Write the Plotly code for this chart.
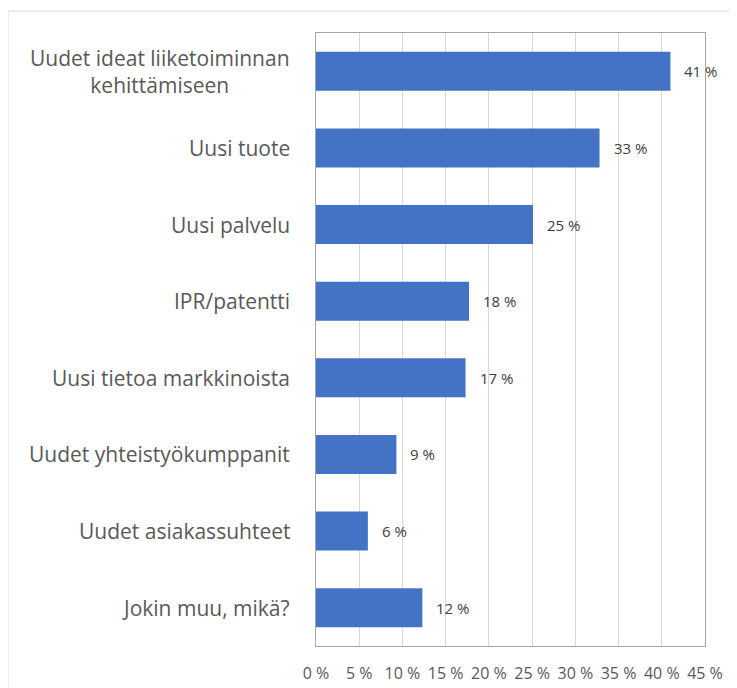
import plotly.graph_objects as go

categories = [
    "Uudet ideat liiketoiminnan<br>kehittämiseen",
    "Uusi tuote",
    "Uusi palvelu",
    "IPR/patentti",
    "Uusi tietoa markkinoista",
    "Uudet yhteistyökumppanit",
    "Uudet asiakassuhteet",
    "Jokin muu, mikä?",
]
values = [41.0, 32.8, 25.1, 17.7, 17.3, 9.3, 6.0, 12.3]
tick_vals = [0, 5, 10, 15, 20, 25, 30, 35, 40, 45]
tick_text = ["0 %", "5 %", "10 %", "15 %", "20 %", "25 %", "30 %", "35 %", "40 %", "45 %"]

font_family = "'Open Sans', sans-serif"
text_color = "#595959"

fig = go.Figure()
fig.add_trace(go.Bar(
    x=values,
    y=categories,
    orientation="h",
    marker=dict(color="#4472C4", line=dict(width=0)),
    hoverinfo="skip",
))

annotations = []
for c, v in zip(categories, values):
    annotations.append(dict(
        x=v, y=c, xref="x", yref="y", text=f"{v:.0f} %",
        showarrow=False, xanchor="left", xshift=12,
        font=dict(family=font_family, size=15, color="#404040"),
    ))
    annotations.append(dict(
        x=0, y=c, xref="paper", yref="y", text=c,
        showarrow=False, xanchor="right", xshift=-24, align="center",
        font=dict(family=font_family, size=21, color=text_color),
    ))

fig.update_layout(
    width=737, height=688,
    margin=dict(l=308, r=40, t=25, b=47),
    paper_bgcolor="white", plot_bgcolor="white",
    bargap=0.49,
    showlegend=False,
    annotations=annotations,
    shapes=[dict(
        type="rect", xref="paper", yref="paper",
        x0=-308/389, x1=1.2, y0=-0.2, y1=1 + 22/616,
        line=dict(color="#D9D9D9", width=1), fillcolor="rgba(0,0,0,0)", layer="below",
    )],
    xaxis=dict(
        range=[0, 45], tickvals=tick_vals, ticktext=tick_text,
        showgrid=True, gridcolor="#D9D9D9", gridwidth=1,
        showline=True, linecolor="#A6A6A6", linewidth=1, mirror=True,
        zeroline=False, ticks="", ticklabelstandoff=13,
        tickfont=dict(family=font_family, size=16, color=text_color),
    ),
    yaxis=dict(
        autorange="reversed", showticklabels=False,
        showline=True, linecolor="#A6A6A6", linewidth=1, mirror=True,
        showgrid=False, ticks="",
    ),
)

fig.write_html("out.html")
